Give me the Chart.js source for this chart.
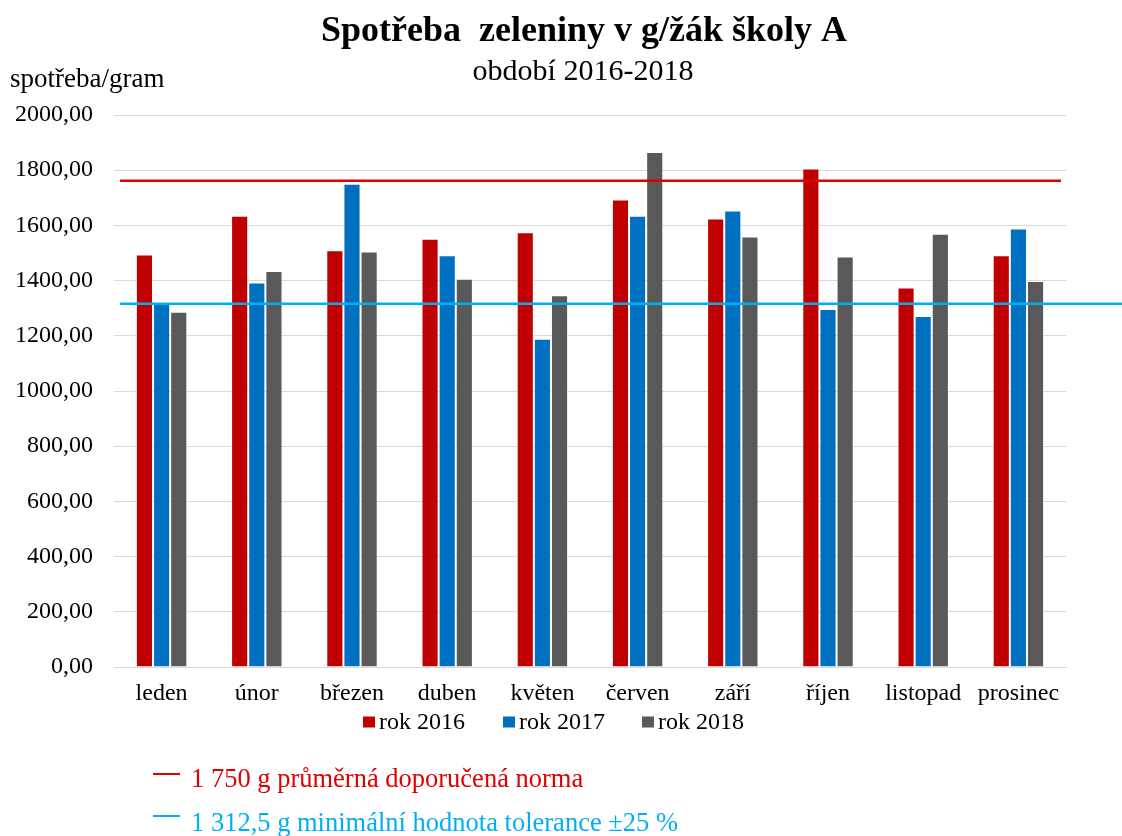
<!DOCTYPE html>
<html>
<head>
<meta charset="utf-8">
<script src="https://cdn.jsdelivr.net/npm/chart.js@4.4.0/dist/chart.umd.min.js"></script>
<style>
  html, body { margin: 0; padding: 0; background: #fff; }
  #wrap { width: 1122px; height: 836px; }
</style>
</head>
<body>
<div id="wrap"><canvas id="myChart"></canvas></div>
<script>
const mesice = ["leden", "únor", "březen", "duben", "květen", "červen", "září", "říjen", "listopad", "prosinec"];
const rok2016 = [1495, 1635, 1510, 1552, 1575, 1694, 1625, 1806, 1375, 1492];
const rok2017 = [1316, 1393, 1751, 1492, 1189, 1635, 1654, 1297, 1272, 1589];
const rok2018 = [1287, 1435, 1505, 1407, 1347, 1866, 1560, 1487, 1570, 1399];
const rokLabels = ["rok 2016", "rok 2017", "rok 2018"];

// reference lines (positions)
const norma = 1762;
const tolerance = 1316;
const normaText = "1 750 g průměrná doporučená norma";
const toleranceText = "1 312,5 g minimální hodnota tolerance ±25 %";

const SERIF = "'Liberation Serif', 'Times New Roman', serif";
const colors = ["#C00000", "#0070C0", "#595959"];

// extra drawing: title, y label, reference lines, legend, notes
const extras = {
  id: "extras",
  afterDatasetsDraw(chart) {
    const ctx = chart.ctx;
    const area = chart.chartArea;
    const y = chart.scales.y;
    ctx.save();
    ctx.lineWidth = 2.5;
    ctx.strokeStyle = "#E00000";
    let py = y.getPixelForValue(norma);
    ctx.beginPath();
    ctx.moveTo(area.left + 6, py);
    ctx.lineTo(area.right - 5, py);
    ctx.stroke();
    ctx.strokeStyle = "#00B0F0";
    py = y.getPixelForValue(tolerance);
    ctx.beginPath();
    ctx.moveTo(area.left + 6, py);
    ctx.lineTo(chart.width, py);
    ctx.stroke();
    ctx.restore();
  },
  afterDraw(chart) {
    const ctx = chart.ctx;
    ctx.save();
    ctx.fillStyle = "#000";
    ctx.textBaseline = "alphabetic";
    ctx.textAlign = "center";
    ctx.font = "bold 36px " + SERIF;
    ctx.fillText("Spotřeba  zeleniny v g/žák školy A", 584, 41);
    ctx.font = "30px " + SERIF;
    ctx.fillText("období 2016-2018", 583, 80);
    ctx.textAlign = "left";
    ctx.font = "27px " + SERIF;
    ctx.fillText("spotřeba/gram", 10, 87);

    // legend
    const legendX = [363, 503, 642];
    ctx.font = "24px " + SERIF;
    chart.data.datasets.forEach((ds, i) => {
      ctx.fillStyle = ds.backgroundColor;
      ctx.fillRect(legendX[i], 716.5, 12, 11);
      ctx.fillStyle = "#000";
      ctx.fillText(ds.label, legendX[i] + 16, 729);
    });

    // notes
    ctx.lineWidth = 2;
    ctx.strokeStyle = "#E00000";
    ctx.beginPath();
    ctx.moveTo(153, 774);
    ctx.lineTo(180, 774);
    ctx.stroke();
    ctx.fillStyle = "#E00000";
    ctx.font = "26.5px " + SERIF;
    ctx.fillText(normaText, 191, 787);
    ctx.strokeStyle = "#00B0F0";
    ctx.beginPath();
    ctx.moveTo(153, 816);
    ctx.lineTo(180, 816);
    ctx.stroke();
    ctx.fillStyle = "#00B0F0";
    ctx.fillText(toleranceText, 191, 831);
    ctx.restore();
  }
};

const ctx = document.getElementById("myChart").getContext("2d");
const data = {
  labels: mesice,
  datasets: [rok2016, rok2017, rok2018].map((vals, i) => ({
    label: rokLabels[i],
    data: vals,
    backgroundColor: colors[i],
    borderColor: "rgba(255,255,255,0.45)",
    borderWidth: 1,
    categoryPercentage: 0.54,
    barPercentage: 1.0,
  })),
};

const config = {
  type: "bar",
  data: data,
  options: {
    responsive: true,
    maintainAspectRatio: false,
    animation: false,
    layout: {
      padding: { top: 115, right: 56, bottom: 119, left: 0 },
    },
    plugins: {
      legend: { display: false },
      title: { display: false },
      tooltip: { enabled: false },
    },
    scales: {
      x: {
        grid: { display: false, drawTicks: false },
        border: { display: true, color: "#D9D9D9", width: 1 },
        ticks: {
          color: "#000",
          padding: 12,
          maxRotation: 0,
          font: { family: SERIF, size: 24 },
        },
        afterFit(scale) { scale.height = 50; },
      },
      y: {
        min: 0,
        max: 2000,
        grid: { color: "#D9D9D9", lineWidth: 1, drawTicks: false },
        border: { display: false },
        ticks: {
          stepSize: 200,
          color: "#000",
          padding: 21,
          font: { family: SERIF, size: 24 },
          callback: (v) => v.toFixed(2).replace(".", ","),
        },
        afterFit(scale) { scale.width = 114; },
      },
    },
  },
  plugins: [extras],
};

new Chart(ctx, config);
</script>
</body>
</html>
